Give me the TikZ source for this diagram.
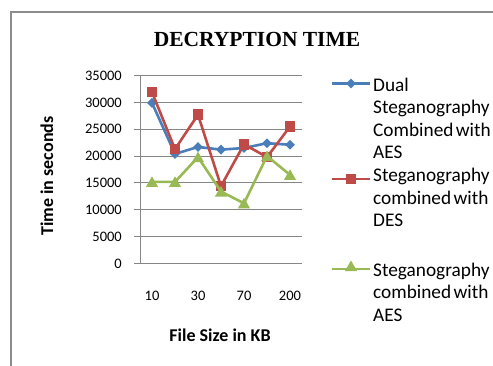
\documentclass[tikz,border=0pt]{standalone}
\usepackage{fontspec}
\setmainfont{Carlito}
\newfontfamily\titlefont{Liberation Serif}
\usetikzlibrary{shapes.geometric}

\definecolor{serblue}{HTML}{4A7EBB}
\definecolor{serred}{HTML}{BE4B48}
\definecolor{sergreen}{HTML}{98B954}
\definecolor{gridgray}{HTML}{868686}
\definecolor{framegray}{HTML}{8C8C8C}

% narrow interword space for the legend entries
\newcommand\tightsp{\spaceskip=2.4pt\relax}

\tikzset{
  gridline/.style={draw=gridgray, line width=1pt},
  serline/.style={line width=2.6pt, line join=round},
  dmark/.style={diamond, fill=serblue, inner sep=0pt, minimum width=10pt, minimum height=10pt},
  smark/.style={rectangle, fill=serred, inner sep=0pt, minimum size=10.5pt},
  tmark/.style={regular polygon, regular polygon sides=3, fill=sergreen, inner sep=0pt, minimum size=14pt},
  ticklabel/.style={font=\fontsize{14.5}{16}\selectfont, inner sep=0pt, text=black},
  axistitle/.style={font=\fontsize{18}{20}\selectfont\bfseries, inner sep=0pt},
  legendtext/.style={font=\fontsize{19.3}{22.6}\selectfont, inner sep=0pt, text width=150pt, align=left, anchor=base west, text=black},
}

\begin{document}
\begin{tikzpicture}[x=1pt, y=-1pt]
\useasboundingbox (0,0) rectangle (493,365);
\clip (0,0) rectangle (493,365);

% chart frame
\draw[framegray, line width=1.2pt] (11,370) -- (11,12) -- (500,12);

% title
\node[font=\titlefont\fontsize{21.5}{24}\selectfont\bfseries, inner sep=0pt] (title) at (257,39.5) {DECRYPTION TIME};

% gridlines, tick marks and value labels
\foreach \k [count=\j from 0] in {0,5000,10000,15000,20000,25000,30000,35000} {
  \draw[gridline] (134,{263.5-\j*188/7}) -- (301.5,{263.5-\j*188/7});
  \node[ticklabel, anchor=east] (ylab\j) at (122,{263.5-\j*188/7}) {\k};
}

% axes
\coordinate (axtop) at (140.5,75.5);
\coordinate (axorig) at (140.5,263.5);
\coordinate (axright) at (301.5,263.5);
\draw[gridline] (axtop) -- (axorig) -- (axright);

% category labels
\foreach \c/\t in {1/10,3/30,5/70,7/200}
  \node[ticklabel] (xlab\c) at ({129+23*\c},296) {\t};

% axis titles
\node[axistitle] (xtitle) at (220,335) {File Size in KB};
\node[axistitle, rotate=90] (ytitle) at (47,176) {Time in seconds};

% data points (values in thousands of seconds)
\foreach \v [count=\i] in {29.9,20.4,21.7,21.2,21.5,22.4,22.1}
  \coordinate (b\i) at ({129+23*\i},{263.5-\v*188/35});
\foreach \v [count=\i] in {31.9,21.3,27.7,14.4,22.2,19.8,25.5}
  \coordinate (r\i) at ({129+23*\i},{263.5-\v*188/35});
\foreach \v [count=\i] in {15.2,15.2,19.8,13.4,11.2,20.0,16.5}
  \coordinate (g\i) at ({129+23*\i},{263.5-\v*188/35});

% series: dual steganography + AES
\draw[serline, serblue] (b1) -- (b2) -- (b3) -- (b4) -- (b5) -- (b6) -- (b7);
\foreach \i in {1,...,7} \node[dmark] (bm\i) at (b\i) {};
% series: steganography + DES
\draw[serline, serred] (r1) -- (r2) -- (r3) -- (r4) -- (r5) -- (r6) -- (r7);
\foreach \i in {1,...,7} \node[smark] (rm\i) at (r\i) {};
% series: steganography + AES
\draw[serline, sergreen] (g1) -- (g2) -- (g3) -- (g4) -- (g5) -- (g6) -- (g7);
\foreach \i in {1,...,7} \node[tmark] (gm\i) at ([yshift=-1.5pt]g\i) {};

% legend
\coordinate (lb1) at (332,83.5);  \coordinate (lb2) at (370,83.5);
\coordinate (lr1) at (332,179);   \coordinate (lr2) at (370,179);
\coordinate (lg1) at (332,269);   \coordinate (lg2) at (370,269);
\draw[serline, serblue] (lb1) -- (lb2);
\node[dmark] (lbm) at (351,83.5) {};
\draw[serline, serred] (lr1) -- (lr2);
\node[smark] (lrm) at (351,179) {};
\draw[serline, sergreen] (lg1) -- (lg2);
\node[tmark] (lgm) at (351,267.5) {};

\node[legendtext] (legb) at (373,91) {\tightsp Dual\\Steganography\\Combined with\\AES};
\node[legendtext] (legr) at (373,181.5) {\tightsp Steganography\\combined with\\DES};
\node[legendtext] (legg) at (373,276) {\tightsp Steganography\\combined with\\AES};
\end{tikzpicture}
\end{document}
